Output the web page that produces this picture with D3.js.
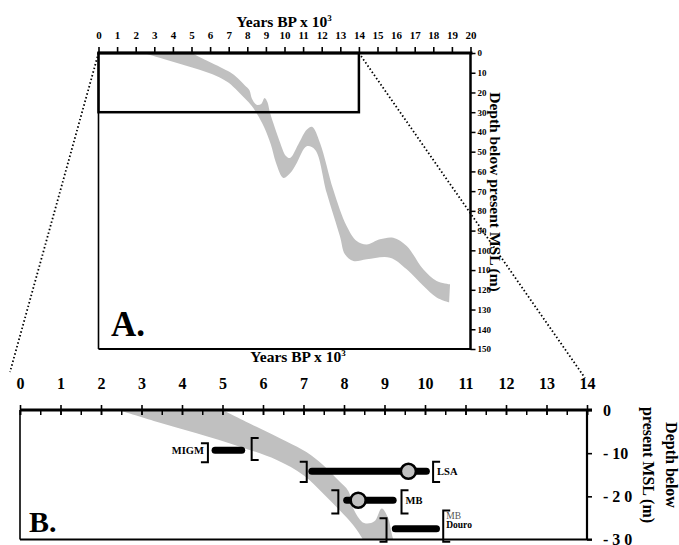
<!DOCTYPE html>
<html><head><meta charset="utf-8">
<script src="https://cdn.jsdelivr.net/npm/d3@7"></script>
<style>
body{margin:0;background:#fff}
svg{display:block}
</style>
</head><body>
<svg id="c" width="679" height="545" font-family="'Liberation Serif', 'Times New Roman', Times, 'DejaVu Serif', serif" font-weight="bold"></svg>
<script>
// ---------- data ----------
const yearTicksA = d3.range(0, 21);
const depthTicksA = d3.range(0, 151, 10);
const yearTicksB = d3.range(0, 15);
const depthTicksB = [0, 10, 20, 30];
const depthLabelsB = ["0", "- 10", "- 2 0", "- 3 0"];

// sea-level envelope: [age kyr BP, depth m]
const bandUpper = [[5.0,0],[5.84,3.9],[6.58,7.3],[7.08,9.8],[7.49,12.8],[7.86,16.3],[8.11,18.8],[8.25,23.2],[8.5,26.2],[8.75,25.8],[8.93,22.8],[9.08,24.8],[9.2,29.5],[9.38,35],[9.74,44.8],[10.08,52.2],[10.3,53.2],[10.73,46.5],[11.19,38.9],[11.48,37.4],[11.91,45.6],[12.62,69.2],[13.34,87.7],[13.88,95.3],[14.42,97],[15.13,94.4],[15.85,93.6],[16.57,97.8],[17.46,109.6],[18.18,115.5],[18.9,117.2]];
const bandLower = [[2.43,0],[3.37,2.7],[4.36,5.4],[5.43,8.5],[6.34,11.6],[7.0,15.1],[7.49,19.4],[7.9,23.3],[8.23,26.7],[8.5,30.5],[8.9,37.5],[9.27,46.5],[9.54,55.6],[9.94,63.3],[10.3,61],[10.66,55.7],[11.19,47.3],[11.64,49],[12.27,70.9],[12.98,92.8],[13.25,102],[13.7,105.4],[14.42,104.5],[15.67,103.7],[16.57,109.6],[17.46,118],[18.18,123.9],[18.85,126.4]];

// dated units (panel B)
const unitNames   = ["MIGM", "LSA", "MB", "Douro"];
const unitDepth   = [9.3, 14.2, 20.9, 27.5];
const barStart    = [4.73, 7.12, 7.98, 9.18];
const barEnd      = [5.56, 10.12, 9.30, 10.37];
const circleAge   = [null, 9.59, 8.35, null];
const leftBrAge   = [4.64, 7.08, 7.86, 9.05];
const leftBrTop   = [7.7, 12.0, 18.6, 25.1];
const leftBrBot   = [12.1, 16.7, 24.0, 30.5];
const rightBrAge  = [5.72, 10.2, 9.42, 10.45];
const rightBrTop  = [6.5, 12.0, 18.6, 23.3];
const rightBrBot  = [11.6, 16.7, 24.0, 30.5];

// ---------- drawing ----------
const svg = d3.select("#c");
const grey = "#c0c0c0";
const FONT = "'Liberation Serif', 'Times New Roman', Times, 'DejaVu Serif', serif";

const xA = d3.scaleLinear([0, 20], [98.5, 470.5]);
const yA = d3.scaleLinear([0, 150], [53, 349]);
const xB = d3.scaleLinear([0, 14], [20, 587]);
const yB = d3.scaleLinear([0, 30], [410, 539.5]);

function bandPath(x, y) {
  const line = d3.line().x(d => x(d[0])).y(d => y(d[1])).curve(d3.curveCatmullRom.alpha(0.5));
  const up = line(bandUpper);
  const lo = line(bandLower.slice().reverse());
  return up + "L" + lo.slice(1) + "Z";
}

const defs = svg.append("defs");
defs.append("clipPath").attr("id", "clipA").append("rect")
  .attr("x", xA(0)).attr("y", yA(0)).attr("width", xA(20) - xA(0)).attr("height", yA(150) - yA(0));
defs.append("clipPath").attr("id", "clipB").append("rect")
  .attr("x", xB(0)).attr("y", yB(0)).attr("width", xB(14) - xB(0)).attr("height", yB(30) - yB(0));

function styleAxis(g, size) {
  g.attr("font-family", FONT).attr("font-weight", "bold");
  g.selectAll(".tick text").attr("font-size", size).attr("fill", "#000");
}

// ===== Panel A =====
svg.append("path").attr("d", bandPath(xA, yA)).attr("fill", grey).attr("clip-path", "url(#clipA)");

svg.append("line").attr("x1", xA(0)).attr("x2", xA(0)).attr("y1", yA(0)).attr("y2", yA(150)).attr("stroke", "#000").attr("stroke-width", 1.6);
svg.append("line").attr("x1", xA(0)).attr("x2", xA(20)).attr("y1", yA(150)).attr("y2", yA(150)).attr("stroke", "#000").attr("stroke-width", 2);

svg.append("rect").attr("x", xA(0)).attr("y", yA(0)).attr("width", xA(14) - xA(0)).attr("height", yA(30) - yA(0))
  .attr("fill", "none").attr("stroke", "#000").attr("stroke-width", 2.5);

const axA = svg.append("g").attr("transform", `translate(0,${yA(0)})`)
  .call(d3.axisTop(xA).tickValues(yearTicksA).tickSize(6).tickPadding(8).tickFormat(d3.format("d")));
axA.select(".domain").attr("stroke-width", 2.8).attr("d", `M${xA(0)-1},0H${xA(20)+2}`);
axA.selectAll(".tick line").attr("stroke-width", 1.6);
styleAxis(axA, 11);

const ayA = svg.append("g").attr("transform", `translate(${xA(20)},0)`)
  .call(d3.axisRight(yA).tickValues(depthTicksA).tickSize(5).tickPadding(2).tickFormat(d3.format("d")));
ayA.select(".domain").attr("stroke-width", 2.5).attr("d", `M0,${yA(0)-1}V${yA(150)+1}`);
ayA.selectAll(".tick line").attr("stroke-width", 1.5);
styleAxis(ayA, 9);

const tA = svg.append("text").attr("x", 284).attr("y", 27).attr("text-anchor", "middle").attr("font-size", 15.5)
  .text("Years BP x 10");
tA.append("tspan").attr("dy", -6).attr("font-size", 9).text("3");
svg.append("text").attr("transform", `translate(490,192) rotate(90)`).attr("text-anchor", "middle").attr("font-size", 15.5)
  .text("Depth below present MSL (m)");
svg.append("text").attr("x", 111).attr("y", 336).attr("font-size", 35).text("A.");

svg.append("line").attr("x1", xA(0)).attr("y1", yA(0)).attr("x2", 10).attr("y2", 372)
  .attr("stroke", "#000").attr("stroke-width", 1.8).attr("stroke-dasharray", "1.5 2.3");
svg.append("line").attr("x1", xA(14)).attr("y1", yA(0)).attr("x2", 585).attr("y2", 378)
  .attr("stroke", "#000").attr("stroke-width", 1.8).attr("stroke-dasharray", "1.5 2.3");

// ===== Panel B =====
svg.append("path").attr("d", bandPath(xB, yB)).attr("fill", grey).attr("clip-path", "url(#clipB)");

svg.append("line").attr("x1", xB(0)).attr("x2", xB(0)).attr("y1", yB(0)).attr("y2", yB(30)).attr("stroke", "#000").attr("stroke-width", 1.6);
svg.append("line").attr("x1", xB(0)).attr("x2", xB(14) + 5).attr("y1", yB(30)).attr("y2", yB(30)).attr("stroke", "#000").attr("stroke-width", 2);

const minorB = svg.append("g").attr("transform", `translate(0,${yB(0)})`)
  .call(d3.axisBottom(xB).tickValues(d3.range(0, 14.01, 0.5)).tickSize(5).tickFormat(""));
minorB.select(".domain").remove();
minorB.selectAll(".tick line").attr("stroke-width", 1.5);

const axB = svg.append("g").attr("transform", `translate(0,${yB(0)})`)
  .call(d3.axisTop(xB).tickValues(yearTicksB).tickSize(5).tickPadding(16).tickFormat(d3.format("d")));
axB.select(".domain").attr("stroke-width", 2.8).attr("d", `M${xB(0)},0H${xB(14)+5}`);
axB.selectAll(".tick line").attr("stroke-width", 1.6).attr("y2", -5).attr("y1", 5);
styleAxis(axB, 16);

const ayB = svg.append("g").attr("transform", `translate(${xB(14)},0)`)
  .call(d3.axisRight(yB).tickValues(depthTicksB).tickSize(5).tickPadding(11).tickFormat((d, i) => depthLabelsB[i]));
ayB.select(".domain").attr("stroke-width", 2.2).attr("d", `M0,${yB(0)}V${yB(30)}`);
ayB.selectAll(".tick line").attr("stroke-width", 1.6);
styleAxis(ayB, 16);

const tB = svg.append("text").attr("x", 298).attr("y", 362).attr("text-anchor", "middle").attr("font-size", 15.5)
  .text("Years BP x 10");
tB.append("tspan").attr("dy", -6).attr("font-size", 9).text("3");
svg.append("text").attr("transform", `translate(666,465) rotate(90)`).attr("text-anchor", "middle").attr("font-size", 16)
  .text("Depth below");
svg.append("text").attr("transform", `translate(643,465) rotate(90)`).attr("text-anchor", "middle").attr("font-size", 16)
  .text("present MSL (m)");
svg.append("text").attr("x", 29).attr("y", 532).attr("font-size", 30).text("B.");

// units
const units = d3.range(unitNames.length);
const gU = svg.append("g");
const barH = 7;
gU.selectAll("line.bar").data(units).join("line").attr("class", "bar")
  .attr("x1", i => xB(barStart[i]) + barH / 2).attr("x2", i => xB(barEnd[i]) - barH / 2)
  .attr("y1", i => yB(unitDepth[i])).attr("y2", i => yB(unitDepth[i]))
  .attr("stroke", "#000").attr("stroke-width", barH).attr("stroke-linecap", "round");

const serif = 7;
gU.selectAll("path.lbr").data(units).join("path").attr("class", "lbr")
  .attr("d", i => `M${xB(leftBrAge[i]) - serif},${yB(leftBrTop[i])}H${xB(leftBrAge[i])}V${yB(leftBrBot[i])}H${xB(leftBrAge[i]) - serif}`)
  .attr("fill", "none").attr("stroke", "#000").attr("stroke-width", 2);
gU.selectAll("path.rbr").data(units).join("path").attr("class", "rbr")
  .attr("d", i => `M${xB(rightBrAge[i]) + serif},${yB(rightBrTop[i])}H${xB(rightBrAge[i])}V${yB(rightBrBot[i])}H${xB(rightBrAge[i]) + serif}`)
  .attr("fill", "none").attr("stroke", "#000").attr("stroke-width", 2);

gU.selectAll("circle").data(units.filter(i => circleAge[i] !== null)).join("circle")
  .attr("cx", i => xB(circleAge[i])).attr("cy", i => yB(unitDepth[i])).attr("r", 7.5)
  .attr("fill", grey).attr("stroke", "#000").attr("stroke-width", 2.5);

gU.append("text").attr("x", xB(leftBrAge[0]) - 4).attr("y", yB(unitDepth[0]) + 3.5)
  .attr("text-anchor", "end").attr("font-size", 10.5).text(unitNames[0]);
gU.append("text").attr("x", xB(rightBrAge[1]) + 4).attr("y", yB(unitDepth[1]) + 4)
  .attr("font-size", 10.5).text(unitNames[1]);
gU.append("text").attr("x", xB(rightBrAge[2]) + 4).attr("y", yB(unitDepth[2]) + 4)
  .attr("font-size", 10.5).text(unitNames[2]);
gU.append("text").attr("x", xB(rightBrAge[3]) + 3).attr("y", yB(unitDepth[3]) - 9.5)
  .attr("font-size", 9.5).attr("font-weight", "normal").attr("fill", "#555").text("MB");
gU.append("text").attr("x", xB(rightBrAge[3]) + 3).attr("y", yB(unitDepth[3]) - 0.5)
  .attr("font-size", 9.5).text(unitNames[3]);
</script>
</body></html>
